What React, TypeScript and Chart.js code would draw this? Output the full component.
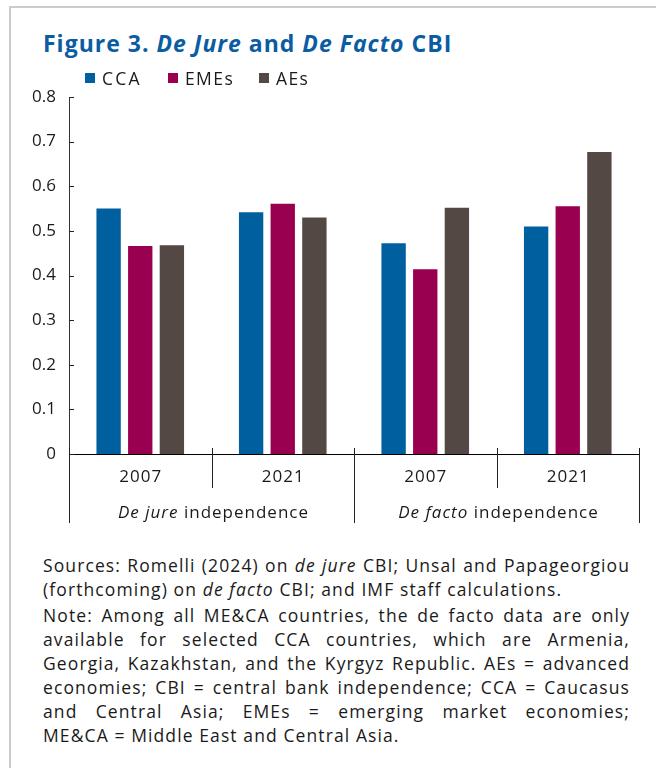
import React, { useEffect, useRef } from "react";
import { Chart, registerables } from "chart.js";

Chart.register(...registerables);

const categories = ["2007", "2021", "2007", "2021"];
const groupItalic = ["De jure", "De facto"];
const groupRest = [" independence", " independence"];
const seriesNames = ["CCA", "EMEs", "AEs"];
const ccaValues = [0.55, 0.542, 0.472, 0.51];
const emesValues = [0.466, 0.561, 0.414, 0.555];
const aesValues = [0.468, 0.53, 0.552, 0.677];
const seriesColors = ["#00609f", "#990050", "#544844"];
const yMin = 0;
const yMax = 0.8;
const yStep = 0.1;

const FONT = "'Open Sans', 'Noto Sans', sans-serif";

const sourceLines = [
  [["Sources: Romelli (2024) on ", false], ["de jure", true], [" CBI; Unsal and Papageorgiou", false]],
  [["(forthcoming) on ", false], ["de facto", true], [" CBI; and IMF staff calculations.", false]],
];
const noteLines = [
  "Note: Among all ME&CA countries, the de facto data are only",
  "available for selected CCA countries, which are Armenia,",
  "Georgia, Kazakhstan, and the Kyrgyz Republic. AEs = advanced",
  "economies; CBI = central bank independence; CCA = Caucasus",
  "and Central Asia; EMEs = emerging market economies;",
  "ME&CA = Middle East and Central Asia.",
];

const groupPlugin = {
  id: "groupAxis",
  afterDraw(chart: any) {
    const { ctx, chartArea, scales } = chart;
    const x = scales.x;
    const y = scales.y;
    const y0 = Math.round(y.getPixelForValue(0));
    ctx.save();
    ctx.strokeStyle = "#222";
    ctx.lineWidth = 1;
    y.ticks.forEach((t: any) => {
      const py = Math.round(y.getPixelForValue(t.value)) + 0.5;
      ctx.beginPath();
      ctx.moveTo(chartArea.left, py);
      ctx.lineTo(chartArea.left + 5, py);
      ctx.stroke();
    });
    for (let i = 0; i <= categories.length; i++) {
      const px = Math.round(x.getPixelForValue(i - 0.5)) + 0.5;
      const outer = i % 2 === 0;
      ctx.beginPath();
      ctx.moveTo(px, y0 - 6);
      ctx.lineTo(px, y0 + (outer ? 69 : 34));
      ctx.stroke();
    }
    ctx.fillStyle = "#1a1a1a";
    ctx.textBaseline = "middle";
    ctx.textAlign = "left";
    (ctx as any).letterSpacing = "1px";
    ctx.font = `17px ${FONT}`;
    categories.forEach((c, i) => {
      const w = ctx.measureText(c).width - 1;
      ctx.fillText(c, x.getPixelForValue(i) - w / 2, y0 + 23);
    });
    groupItalic.forEach((it, g) => {
      const cx = x.getPixelForValue(g * 2 + 0.5) + 2;
      ctx.font = `italic 17px ${FONT}`;
      const w1 = ctx.measureText(it).width;
      ctx.font = `17px ${FONT}`;
      const w2 = ctx.measureText(groupRest[g]).width;
      const start = cx - (w1 + w2) / 2;
      ctx.font = `italic 17px ${FONT}`;
      ctx.fillText(it, start, y0 + 59);
      ctx.font = `17px ${FONT}`;
      ctx.fillText(groupRest[g], start + w1, y0 + 59);
    });
    ctx.restore();
  },
};

export default function App() {
  const ref = useRef<HTMLCanvasElement>(null);
  useEffect(() => {
    document.body.style.overflow = "hidden";
    const values = [ccaValues, emesValues, aesValues];
    const chart = new Chart(ref.current as HTMLCanvasElement, {
      type: "bar",
      data: {
        labels: categories,
        datasets: seriesNames.map((n, i) => ({
          label: n,
          data: values[i],
          backgroundColor: seriesColors[i],
          borderWidth: 0,
          categoryPercentage: 0.666,
          barPercentage: 0.77,
        })),
      },
      options: {
        animation: false,
        responsive: false,
        maintainAspectRatio: false,
        layout: { padding: { left: 0, right: 17, top: 97, bottom: 86 } },
        plugins: { legend: { display: false }, tooltip: { enabled: false } },
        scales: {
          x: {
            type: "category",
            offset: true,
            grid: { display: false, drawTicks: false },
            border: { display: true, color: "#000", width: 1 },
            ticks: { display: false },
            afterFit: (s: any) => {
              s.height = 0;
            },
          },
          y: {
            min: yMin,
            max: yMax,
            ticks: {
              stepSize: yStep,
              padding: 13,
              color: "#1a1a1a",
              font: { family: FONT, size: 17 },
              callback: (v: any) => (v === 0 ? "0" : Number(v).toFixed(1)),
            },
            grid: { display: false, drawTicks: false },
            border: { display: true, color: "#333", width: 1 },
            afterFit: (s: any) => {
              s.width = 69;
            },
          },
        },
      },
      plugins: [groupPlugin],
    });
    return () => chart.destroy();
  }, []);

  const textStyle: React.CSSProperties = {
    fontSize: 17.5,
    lineHeight: "24px",
    color: "#1a1a1a",
    whiteSpace: "nowrap",
    letterSpacing: 1.1,
  };

  return (
    <div style={{ position: "absolute", left: 0, top: 0, width: 656, height: 768, overflow: "hidden", background: "#fff", fontFamily: FONT }}>
      <div style={{ position: "absolute", left: 9, top: 6, width: 647, height: 762, borderLeft: "2px solid #cccccc", borderTop: "2px solid #cccccc", boxSizing: "border-box" }} />
      <div style={{ position: "absolute", left: 43, top: 28, fontSize: 23, fontWeight: 700, color: "#0a5ca3", lineHeight: "30px", whiteSpace: "nowrap", letterSpacing: 1.0 }}>
        Figure 3. <i>De Jure</i> and <i>De Facto</i> CBI
      </div>
      <canvas ref={ref} width={656} height={540} style={{ position: "absolute", left: 0, top: 0, width: 656, height: 540 }} />
      <div style={{ position: "absolute", left: 85, top: 66, display: "flex", alignItems: "center", fontSize: 17.5, color: "#1a1a1a", lineHeight: "24px" }}>
        {seriesNames.map((n, i) => (
          <div key={n} style={{ display: "flex", alignItems: "center", width: [83, 91, 60][i] }}>
            <span style={{ display: "inline-block", width: 10, height: 10, background: seriesColors[i], marginRight: 7 }} />
            <span style={{ letterSpacing: [2.2, 1.4, 1.4][i] }}>{n}</span>
          </div>
        ))}
      </div>
      <div style={{ position: "absolute", left: 43, top: 553, width: 587 }}>
        {sourceLines.map((line, li) => (
          <div key={li} style={{ ...textStyle, textAlign: "justify", textAlignLast: li === 0 ? "justify" : "left" } as any}>
            {line.map(([t, it], k) => (it ? <i key={k}>{t as string}</i> : <span key={k}>{t as string}</span>))}
          </div>
        ))}
        <div style={{ height: 2 }} />
        {noteLines.map((t, li) => (
          <div key={li} style={{ ...textStyle, textAlign: "justify", textAlignLast: li < noteLines.length - 1 ? "justify" : "left" } as any}>
            {t}
          </div>
        ))}
      </div>
    </div>
  );
}
